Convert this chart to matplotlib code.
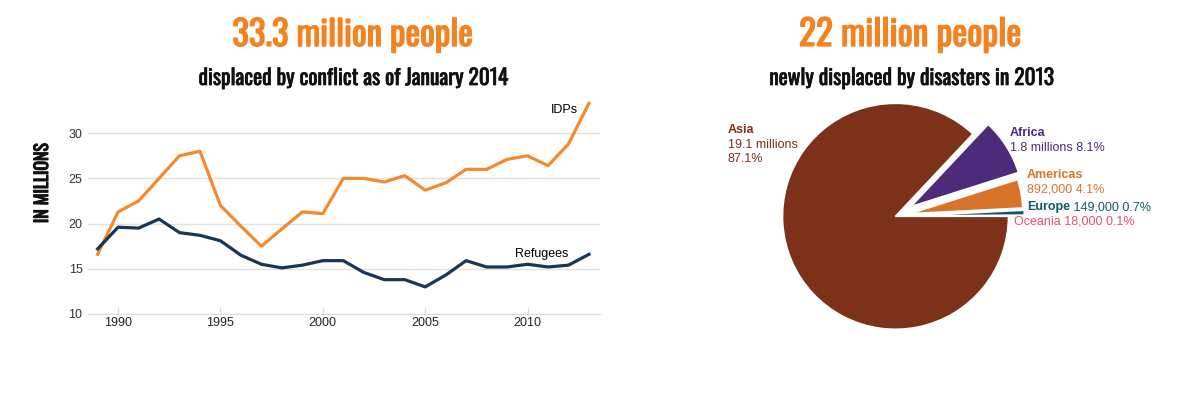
import matplotlib
matplotlib.use("Agg")
import matplotlib.pyplot as plt
import matplotlib.patheffects as pe

# displaced by conflict, millions
years = list(range(1989, 2014))
idps = [16.6, 21.3, 22.5, 25.0, 27.5, 28.0, 22.0, 19.7, 17.5, 19.4, 21.3, 21.1, 25.0,
        25.0, 24.6, 25.3, 23.7, 24.5, 26.0, 26.0, 27.1, 27.5, 26.4, 28.8, 33.3]
refugees = [17.2, 19.6, 19.5, 20.5, 19.0, 18.7, 18.1, 16.5, 15.5, 15.1, 15.4, 15.9, 15.9,
            14.6, 13.8, 13.8, 13.0, 14.3, 15.9, 15.2, 15.2, 15.5, 15.2, 15.4, 16.6]
xticks = [1990, 1995, 2000, 2005, 2010]
yticks = [10, 15, 20, 25, 30]

# newly displaced by disasters 2013
regions = ["Oceania", "Europe", "Americas", "Africa", "Asia"]
shares = [0.1, 0.7, 4.1, 8.1, 87.1]
amounts = ["18,000", "149,000", "892,000", "1.8 millions", "19.1 millions"]

W, H = 1181, 395
GOTHIC = ["Oswald", "League Gothic", "DejaVu Sans"]
SANS = ["Liberation Sans", "DejaVu Sans"]
ORANGE = "#f5821f"
NAVY = "#17375a"
pie_colors = ["#e9506a", "#0e5868", "#d8742a", "#4d2b7a", "#7c3119"]


def fx(px):
    return px / W


def fy(py):
    return 1 - py / H


fig = plt.figure(figsize=(W / 100, H / 100), dpi=100)
renderer = fig.canvas.get_renderer()


def fit(t, target, vertical=False, stroke=0.0):
    # rescale a text so its width (or height) matches the reference
    for _ in range(3):
        bb = t.get_window_extent(renderer)
        size = bb.height if vertical else bb.width
        t.set_fontsize(t.get_fontsize() * target / size)
    if stroke:
        t.set_path_effects([pe.withStroke(linewidth=stroke, foreground=t.get_color())])


# ---- line chart ----
ax = fig.add_axes([fx(88), fy(314), (600 - 88) / W, (314 - 97) / H])
ax.plot(years, idps, color="#f7892b", lw=2.3, solid_joinstyle="round")
ax.plot(years, refugees, color=NAVY, lw=2.3, solid_joinstyle="round")
ax.set_xlim(1988.53, 2013.54)
ax.set_ylim(10, 34)
ax.set_xticks(xticks)
ax.set_yticks(yticks)
ax.tick_params(axis="x", direction="in", length=4.5, color="#d8d8d8", pad=2,
               labelsize=9, labelcolor="#222222")
ax.tick_params(axis="y", length=0, pad=4, labelsize=9, labelcolor="#333333")
for lab in ax.get_xticklabels() + ax.get_yticklabels():
    lab.set_family(SANS)
ax.grid(axis="y", color="#e2e2e2", lw=1)
ax.set_axisbelow(True)
for s in ["top", "right", "left"]:
    ax.spines[s].set_visible(False)
ax.spines["bottom"].set_color("#dddddd")
ax.text(2012.45, 32.6, "IDPs", ha="right", va="center", fontsize=9, family=SANS)
ax.text(2012.0, 16.6, "Refugees", ha="right", va="center", fontsize=9, family=SANS)

t = fig.text(fx(42), fy(183), "IN MILLIONS", rotation=90, ha="center", va="center",
             fontsize=14, fontweight="bold", family=GOTHIC, color="#111111")
fit(t, 80, vertical=True, stroke=0.8)
t = fig.text(fx(353), fy(35), "33.3 million people", ha="center", va="center",
             fontsize=24, fontweight="bold", color=ORANGE, family=GOTHIC)
fit(t, 241, stroke=0.9)
t = fig.text(fx(353), fy(78), "displaced by conflict as of January 2014", ha="center",
             va="center", fontsize=14, fontweight="bold", family=GOTHIC, color="#111111")
fit(t, 309, stroke=0.5)

# ---- pie ----
r = 113
cx, cy = 895.5, 216.3
pax = fig.add_axes([fx(cx - 1.5 * r), fy(cy + 1.5 * r), 3 * r / W, 3 * r / H])
pax.pie(shares, colors=pie_colors, startangle=0, counterclock=True,
        explode=[0.14, 0.14, 0.13, 0.16, 0],
        wedgeprops=dict(edgecolor="white", linewidth=1.2))
pax.set_xlim(-1.5, 1.5)
pax.set_ylim(-1.5, 1.5)
pax.set_aspect("equal")
pax.axis("off")

t = fig.text(fx(910), fy(35), "22 million people", ha="center", va="center",
             fontsize=24, fontweight="bold", color=ORANGE, family=GOTHIC)
fit(t, 222, stroke=0.9)
t = fig.text(fx(911), fy(78), "newly displaced by disasters in 2013", ha="center",
             va="center", fontsize=14, fontweight="bold", family=GOTHIC, color="#111111")
fit(t, 284, stroke=0.5)

c = pie_colors
fig.text(fx(728), fy(130), regions[4], color=c[4], fontsize=9, fontweight="bold",
         family=SANS, va="center")
fig.text(fx(728), fy(145), amounts[4], color=c[4], fontsize=9, family=SANS, va="center")
fig.text(fx(728), fy(159), f"{shares[4]}%", color=c[4], fontsize=9, family=SANS, va="center")

fig.text(fx(1010), fy(133), regions[3], color=c[3], fontsize=9, fontweight="bold",
         family=SANS, va="center")
fig.text(fx(1010), fy(148), f"{amounts[3]} {shares[3]}%", color=c[3], fontsize=9,
         family=SANS, va="center")

fig.text(fx(1027), fy(175), regions[2], color=c[2], fontsize=9, fontweight="bold",
         family=SANS, va="center")
fig.text(fx(1027), fy(190), f"{amounts[2]} {shares[2]}%", color=c[2], fontsize=9,
         family=SANS, va="center")

te = fig.text(fx(1027), fy(207), regions[1], color=c[1], fontsize=9, fontweight="bold",
              family=SANS, va="center")
pax.annotate(f" {amounts[1]} {shares[1]}%", xy=(1, 0), xycoords=te, va="bottom",
             color=c[1], fontsize=9, family=SANS, annotation_clip=False)

fig.text(fx(1014), fy(222), f"{regions[0]} {amounts[0]} {shares[0]}%", color=c[0],
         fontsize=9, family=SANS, va="center")

fig.savefig("out.png", dpi=100)
